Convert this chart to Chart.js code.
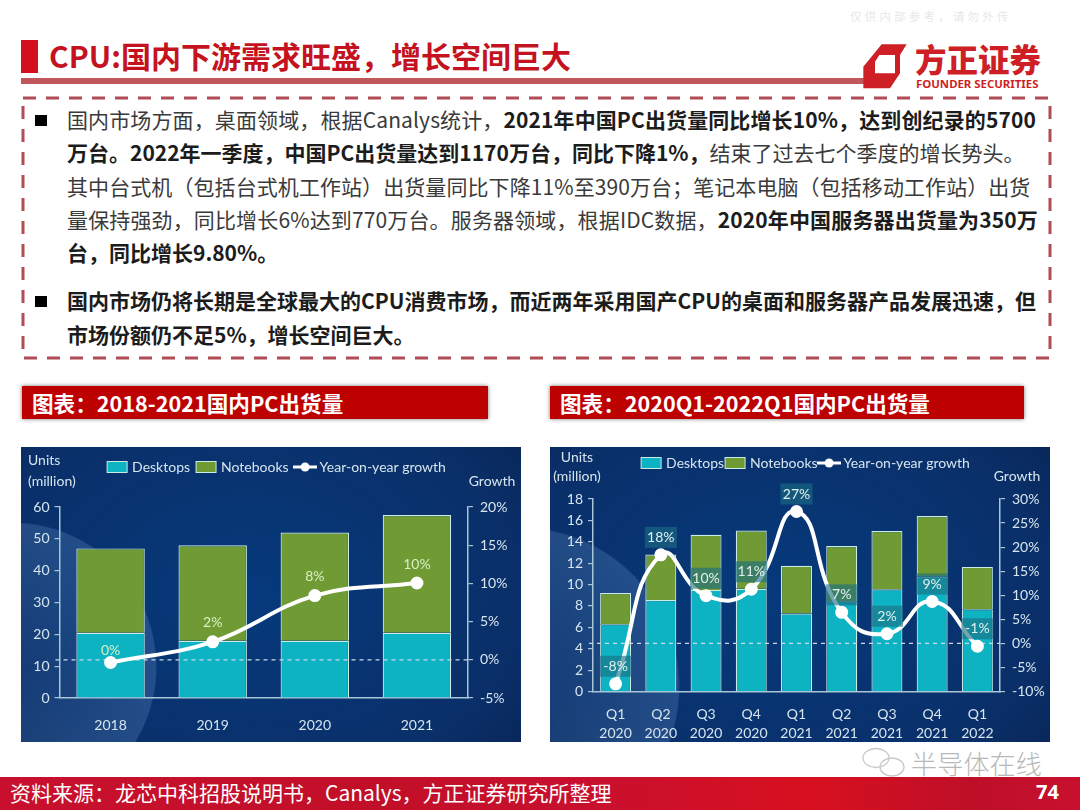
<!DOCTYPE html>
<html><head><meta charset="utf-8">
<script src="https://cdn.jsdelivr.net/npm/chart.js@4"></script>
<style>
html,body{margin:0;padding:0;background:#fff}
body{width:1080px;height:810px;position:relative;overflow:hidden;font-family:"Noto Sans CJK SC","Noto Sans",sans-serif}
.a{position:absolute;white-space:nowrap;line-height:1}
.l{position:absolute;left:67px;white-space:nowrap;font-size:21px;line-height:1;color:#3a3a3a}
.l b{color:#1c1c1c;font-weight:700}
.hd{position:absolute;top:386px;height:33px;background:#bd0000;box-shadow:0 0 4px #777;color:#fff;font-weight:700;font-size:21.6px;line-height:33px;padding-left:10px;box-sizing:border-box;white-space:nowrap}
.panel{position:absolute;width:500px;height:295px;background-color:#0a2f69}
.panel canvas{position:absolute;left:0;top:0}
</style></head><body>
<div class="a" style="left:850px;top:11px;font-size:11.5px;letter-spacing:3.2px;color:#e8e8e8">仅供内部参考，请勿外传</div>
<div class="a" style="left:21px;top:40px;width:17px;height:33px;background:#d40f1e"></div>
<div class="a" style="left:49px;top:40px;font-size:30px;font-weight:700;color:#c4121f">CPU:国内下游需求旺盛，增长空间巨大</div>
<div class="a" style="left:21px;top:78px;width:847px;height:6px;background:#c0575a"></div>
<svg class="a" style="left:850px;top:5px" width="220" height="95" viewBox="0 0 660 285"><path fill-rule="evenodd" fill="#cf1f26" d="M95 118 L170 118 L150 150 L150 205 L120 250 L40 250 L40 185 Z M88 150 L135 150 L135 205 L75 205 L75 170 Z"/></svg>
<div class="a" style="left:915px;top:43px;font-size:31.5px;font-weight:900;color:#cf1f26">方正证券</div>
<div class="a" style="left:916px;top:78px;font-size:11.4px;font-weight:700;color:#cf1f26;font-family:'Noto Sans'">FOUNDER SECURITIES</div>
<svg class="a" style="left:0;top:0" width="1080" height="400"><rect x="23" y="98" width="1027" height="260" fill="none" stroke="#b04d55" stroke-width="3" stroke-dasharray="13 10"/></svg>
<div class="a" style="left:35px;top:115px;width:12px;height:11px;background:#000"></div>
<div class="l" style="top:109px;letter-spacing:.12px">国内市场方面，桌面领域，根据Canalys统计，<b>2021年中国PC出货量同比增长10%，达到创纪录的5700</b></div>
<div class="l" style="top:142px"><b>万台。2022年一季度，中国PC出货量达到1170万台，同比下降1%，</b>结束了过去七个季度的增长势头。</div>
<div class="l" style="top:176px;letter-spacing:.08px">其中台式机（包括台式机工作站）出货量同比下降11%至390万台；笔记本电脑（包括移动工作站）出货</div>
<div class="l" style="top:209px;letter-spacing:.14px">量保持强劲，同比增长6%达到770万台。服务器领域，根据IDC数据，<b>2020年中国服务器出货量为350万</b></div>
<div class="l" style="top:242px"><b>台，同比增长9.80%。</b></div>
<div class="a" style="left:35px;top:296px;width:12px;height:11px;background:#000"></div>
<div class="l" style="top:290px"><b>国内市场仍将长期是全球最大的CPU消费市场，而近两年采用国产CPU的桌面和服务器产品发展迅速，但</b></div>
<div class="l" style="top:324px"><b>市场份额仍不足5%，增长空间巨大。</b></div>
<div class="hd" style="left:22px;width:466px">图表：2018-2021国内PC出货量</div>
<div class="hd" style="left:550px;width:474px">图表：2020Q1-2022Q1国内PC出货量</div>
<div class="panel" style="left:21px;top:447px;background-image:radial-gradient(circle 145px at -9px 220px,rgba(90,135,185,.12) 0,rgba(80,125,180,.36) 99%,transparent 100%),radial-gradient(ellipse 420px 300px at 45% 50%,#063a7c 0,#0a2f69 65%,#07204d 100%)"><canvas id="c1" width="500" height="295"></canvas></div>
<div class="panel" style="left:550px;top:447px;background-image:radial-gradient(circle 160px at -30px 240px,rgba(90,135,185,.12) 0,rgba(80,125,180,.36) 99%,transparent 100%),radial-gradient(ellipse 420px 300px at 45% 50%,#063a7c 0,#0a2f69 65%,#07204d 100%)"><canvas id="c2" width="500" height="295"></canvas></div>
<div class="a" style="left:0;top:777px;width:1080px;height:33px;background:linear-gradient(90deg,#c8102e 0,#c20f28 35%,#c8102e 55%,#d8101f 75%,#be0f28 90%,#c8102e 100%)"></div>
<svg class="a" style="left:860px;top:747px" width="50" height="34" fill="none" stroke="#c8c8c8" stroke-width="1.3"><ellipse cx="16" cy="11" rx="13" ry="9.5"/><ellipse cx="32" cy="20" rx="12" ry="9"/></svg>
<div class="a" style="left:911px;top:750px;font-size:26px;font-weight:300;letter-spacing:.2px;color:#b8b8b8">半导体在线</div>
<div class="a" style="left:10px;top:782px;font-size:21px;color:#fff">资料来源：龙芯中科招股说明书，Canalys，方正证券研究所整理</div>
<div class="a" style="left:1036px;top:782px;font-size:20px;font-weight:700;color:#fff;font-family:'Noto Sans'">74</div>
<script>
const yearCategories = ['2018','2019','2020','2021'];
const yearDesktops = [20.5,18,18,20.5];
const yearNotebooks = [26.5,30,34,37];
const yearGrowth = [-0.35,2.35,8.4,10.05];
const yearGrowthLabels = ['0%','2%','8%','10%'];
const yearUnitsTicks = [0,60,10];
const yearGrowthTicks = [-5,20,5];

const quarterCategories = [['Q1','2020'],['Q2','2020'],['Q3','2020'],['Q4','2020'],['Q1','2021'],['Q2','2021'],['Q3','2021'],['Q4','2021'],['Q1','2022']];
const quarterDesktops = [6.3,8.55,9.5,9.6,7.3,8.45,9.55,10.75,7.7];
const quarterNotebooks = [2.9,4.25,5.15,5.45,4.45,5.15,5.45,5.65,3.95];
const quarterGrowth = [-8.4,18.4,9.9,11.25,27.4,6.45,2.0,8.7,-0.6];
const quarterGrowthLabels = ['-8%','18%','10%','11%','27%','7%','2%','9%','-1%'];
const quarterUnitsTicks = [0,18,2];
const quarterGrowthTicks = [-10,30,5];

const seriesNames = ['Desktops','Notebooks','Year-on-year growth'];
const FONT = 'Lato';
const FS = 14;
const TXT = '#d6e5ee', AXIS = '#a8c6d6', EDGE = '#c9ede6', TEAL = '#0db2c3', GREEN = '#6f9a34';

function swatch(kind){
  const c = document.createElement('canvas');
  c.width = 24; c.height = 14;
  const x = c.getContext('2d');
  if(kind === 'line'){
    x.strokeStyle = '#fff'; x.lineWidth = 3;
    x.beginPath(); x.moveTo(0,7); x.lineTo(24,7); x.stroke();
    x.fillStyle = '#fff'; x.beginPath(); x.arc(12,7,4.5,0,Math.PI*2); x.fill();
  } else {
    x.fillStyle = kind; x.fillRect(1,1,21,12);
    x.strokeStyle = EDGE; x.lineWidth = 1; x.strokeRect(1.5,1.5,20,11);
  }
  return c;
}

function makeChart(id, cats, desk, note, growth, labels, uTicks, gTicks, o){
  const layoutPlugin = {
    id:'fixedLayout',
    beforeInit(chart){
      const lg = chart.legend, fit = lg.fit, draw = lg.draw;
      lg.fit = function(){ fit.call(this); this.height = o.top; };
      lg.draw = function(){
        const c = chart.ctx;
        c.save(); c.translate(o.legendDx,o.legendDy); draw.call(this); c.restore();
      };
    },
    beforeDatasetDraw(chart,args){
      if(args.meta.type !== 'line') return;
      const y = chart.scales.y1.getPixelForValue(0), c = chart.ctx;
      c.save(); c.strokeStyle = '#c7dbe6'; c.lineWidth = 1.3; c.setLineDash([4,4]);
      c.beginPath(); c.moveTo(chart.chartArea.left - 4,y); c.lineTo(chart.chartArea.right,y); c.stroke(); c.restore();
    },
    afterDatasetsDraw(chart){
      const c = chart.ctx, pts = chart.getDatasetMeta(2).data;
      c.save(); c.textAlign='center'; c.textBaseline='middle'; c.font = FS+'px '+FONT;
      pts.forEach((p,i)=>{
        const yy = p.y - o.labelOffset(i);
        if(o.boxed){ c.fillStyle='rgba(28,110,130,.62)'; c.fillRect(p.x-16,yy-10.5,32,21); }
        c.fillStyle = o.boxed ? '#e3f1ee' : '#d9efc4';
        c.fillText(labels[i],p.x,yy);
      });
      c.fillStyle = TXT;
      c.textAlign = o.unitAlign;
      c.fillText('Units',o.unitX,o.unitY1); c.fillText('(million)',o.unitX,o.unitY2);
      c.textAlign='center'; c.fillText('Growth',o.growthX,o.unitY2);
      c.restore();
    }
  };
  return new Chart(document.getElementById(id),{
    data:{labels:cats,datasets:[
      {type:'bar',label:seriesNames[0],data:desk,backgroundColor:TEAL,borderColor:EDGE,borderWidth:1.2,stack:'s',yAxisID:'y',order:2,categoryPercentage:1,barPercentage:o.barPct},
      {type:'bar',label:seriesNames[1],data:note,backgroundColor:GREEN,borderColor:EDGE,borderWidth:1.2,stack:'s',yAxisID:'y',order:2,categoryPercentage:1,barPercentage:o.barPct},
      {type:'line',label:seriesNames[2],data:growth,yAxisID:'y1',order:1,borderColor:'#fff',borderWidth:o.lineW,tension:o.tension,pointRadius:4.5,pointBackgroundColor:'#fff',pointBorderColor:'#fff',clip:false}
    ]},
    plugins:[layoutPlugin],
    options:{
      responsive:false,animation:false,devicePixelRatio:1,
      layout:{padding:0},
      plugins:{
        tooltip:{enabled:false},
        legend:{display:true,position:'top',labels:{
          color:TXT,font:{family:FONT,size:FS},padding:o.legendPad,usePointStyle:true,pointStyleWidth:15,
          generateLabels(chart){
            return chart.data.datasets.map((d,i)=>({text:d.label,datasetIndex:i,fontColor:TXT,lineWidth:0,hidden:false,
              pointStyle:swatch(i===0?TEAL:i===1?GREEN:'line')}));
          }
        }}
      },
      scales:{
        x:{stacked:true,offset:true,afterFit(s){s.height=o.bottom;},
          grid:{display:false},border:{display:true,color:AXIS,width:1.5},
          ticks:{color:TXT,font:{family:FONT,size:FS,lineHeight:1.32},padding:o.xPad,maxRotation:0,autoSkip:false}},
        y:{stacked:true,position:'left',min:uTicks[0],max:uTicks[1],afterFit(s){s.width=o.left;},
          grid:{drawOnChartArea:false,color:AXIS,tickLength:5,lineWidth:1.2},border:{display:true,color:AXIS,width:1.5},
          ticks:{stepSize:uTicks[2],color:TXT,font:{family:FONT,size:FS},padding:5}},
        y1:{position:'right',min:gTicks[0],max:gTicks[1],afterFit(s){s.width=o.right;},
          grid:{drawOnChartArea:false,color:AXIS,tickLength:5,lineWidth:1.2},border:{display:true,color:AXIS,width:1.5},
          ticks:{stepSize:gTicks[2],color:TXT,font:{family:FONT,size:FS},padding:7,callback:v=>v+'%'}}
      }
    }
  });
}

makeChart('c1',yearCategories,yearDesktops,yearNotebooks,yearGrowth,yearGrowthLabels,yearUnitsTicks,yearGrowthTicks,{
  top:60,bottom:44,left:38.5,right:53,barPct:.67,lineW:4,tension:.4,legendPad:9,legendDx:7,legendDy:4,xPad:10,boxed:false,
  labelOffset:i=>i===0?12:19,unitAlign:'left',unitX:7,unitY1:13,unitY2:34,growthX:471
});
makeChart('c2',quarterCategories,quarterDesktops,quarterNotebooks,quarterGrowth,quarterGrowthLabels,quarterUnitsTicks,quarterGrowthTicks,{
  top:52,bottom:50.5,left:43,right:50,barPct:.685,lineW:4,tension:.5,legendPad:4,legendDx:7,legendDy:5,xPad:6,boxed:true,
  labelOffset:()=>17.5,unitAlign:'center',unitX:27,unitY1:10,unitY2:29,growthX:467
});
</script>
</body></html>
